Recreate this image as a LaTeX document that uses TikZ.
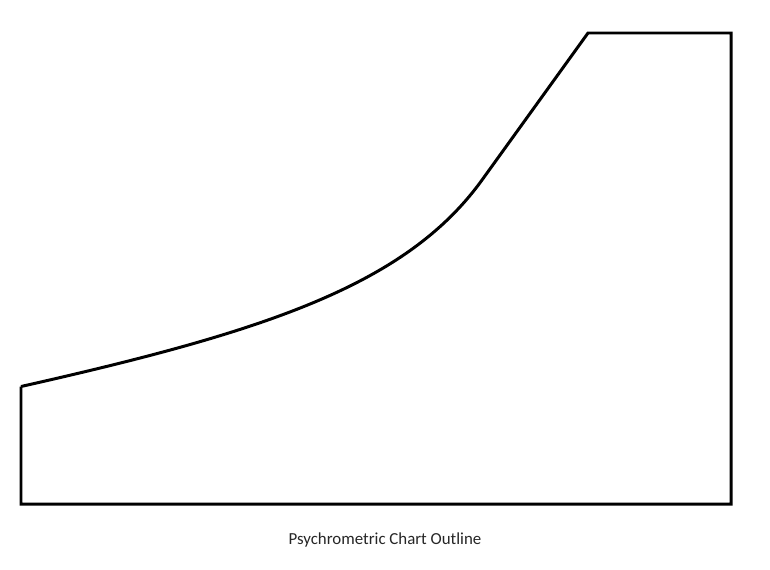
\documentclass[tikz,border=0pt]{standalone}
\usepackage{fontspec}
\setmainfont{Carlito}
\usetikzlibrary{calc}

\begin{document}
\begin{tikzpicture}[x=0.02cm, y=-0.02cm, every node/.style={font=\fontsize{9.6}{11}\selectfont}]

  % Cadre (en pixels de l'image)
  \useasboundingbox (0,0) rectangle (770,569);

  % Coins
  \coordinate (basgauche) at (21,504);
  \coordinate (basdroite) at (731,504);
  \coordinate (hautdroite) at (731,33);
  \coordinate (hautgauche) at (588,33);
  \coordinate (coude) at (482,180);
  \coordinate (saturation) at (21,386.5);

  % Contour du diagramme
  \draw[line width=1.7pt, line join=miter]
    (saturation) -- (basgauche) -- (basdroite) -- (hautdroite) -- (hautgauche)
    -- (coude) .. controls (406,285.4) and (265,331.5) .. (saturation);

  % Titre
  \node[text=black!85] (titre) at (385,540) {Psychrometric Chart Outline};

\end{tikzpicture}
\end{document}
